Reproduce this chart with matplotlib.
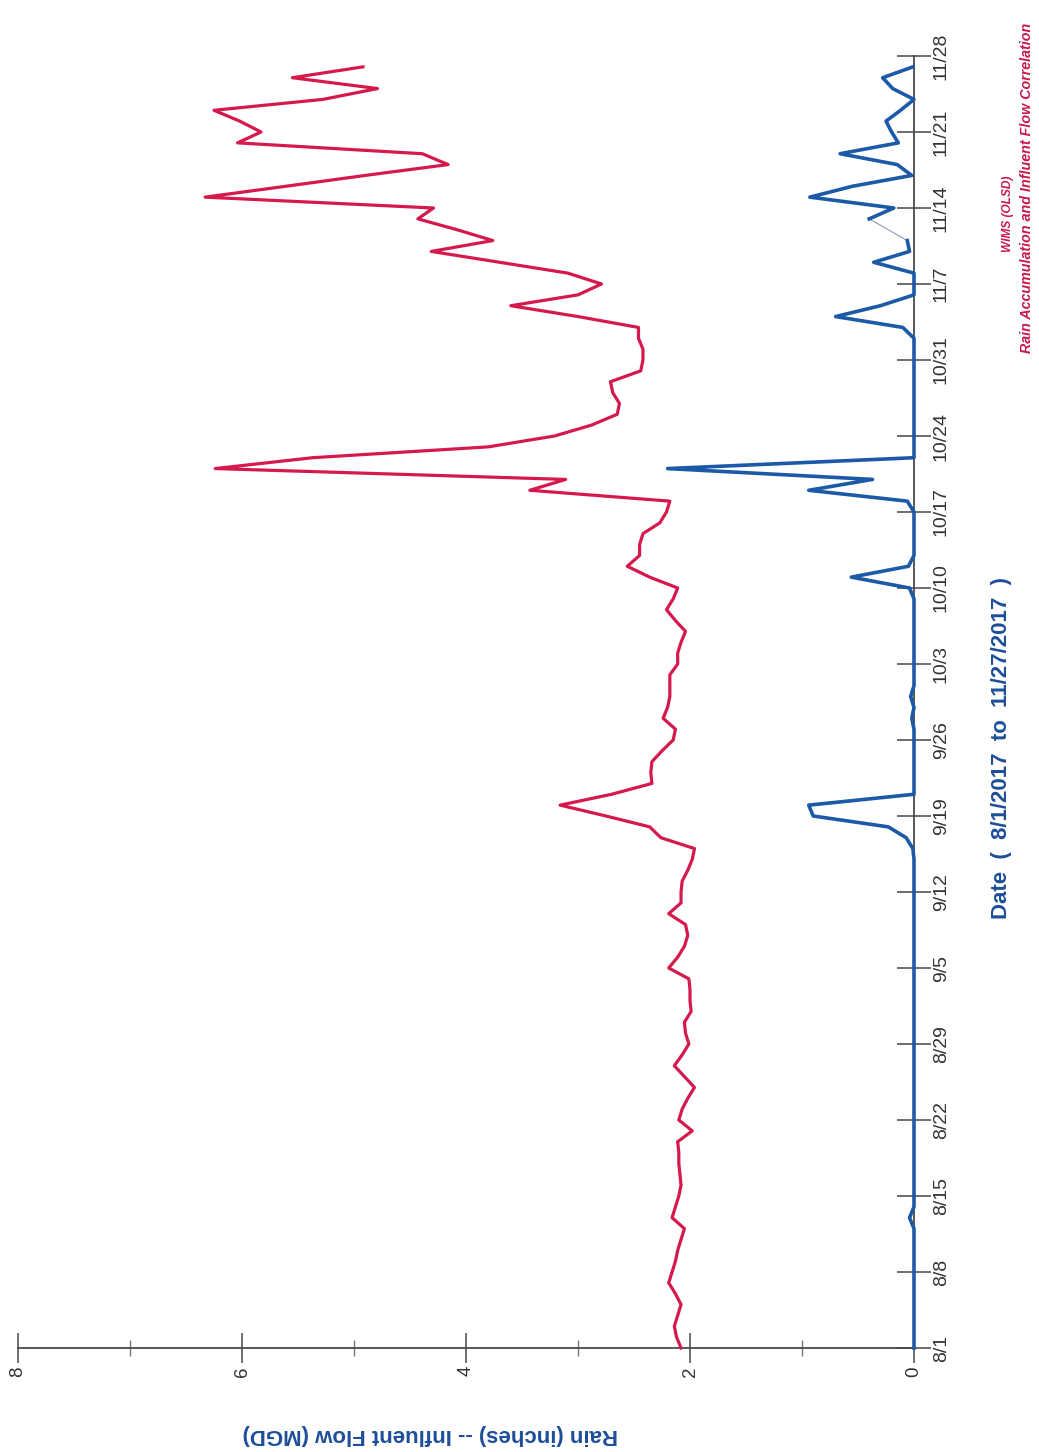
import numpy as np
import matplotlib
matplotlib.use("Agg")
import matplotlib.pyplot as plt

# daily values, 8/1/2017 .. 11/27/2017
influent_mgd = [
    2.08, 2.12, 2.14, 2.11, 2.08, 2.13, 2.19, 2.16, 2.13, 2.11,
    2.08, 2.05, 2.16, 2.13, 2.10, 2.08, 2.09, 2.10, 2.10, 2.11,
    1.98, 2.10, 2.07, 2.02, 1.96, 2.05, 2.14, 2.07, 2.01, 2.04,
    2.05, 1.99, 2.00, 2.00, 2.01, 2.19, 2.11, 2.05, 2.02, 2.04,
    2.19, 2.08, 2.08, 2.07, 2.02, 1.98, 1.96, 2.26, 2.36, 2.75,
    3.16, 2.70, 2.34, 2.35, 2.34, 2.25, 2.15, 2.13, 2.24, 2.20,
    2.18, 2.18, 2.18, 2.11, 2.11, 2.08, 2.04, 2.13, 2.21, 2.15,
    2.11, 2.36, 2.56, 2.45, 2.45, 2.42, 2.27, 2.21, 2.18, 3.43,
    3.11, 6.24, 5.37, 3.80, 3.21, 2.88, 2.65, 2.63, 2.69, 2.71,
    2.44, 2.42, 2.42, 2.46, 2.46, 3.00, 3.60, 3.00, 2.79, 3.09,
    3.70, 4.31, 3.76, 4.08, 4.43, 4.29, 6.33, 5.61, 4.90, 4.16,
    4.39, 6.04, 5.83, 6.02, 6.25, 5.28, 4.79, 5.55, 4.92,
]
nan = float("nan")
rain_in = [
    0, 0, 0, 0, 0, 0, 0, 0, 0, 0,
    0, 0, 0.04, 0, 0, 0, 0, 0, 0, 0,
    0, 0, 0, 0, 0, 0, 0, 0, 0, 0,
    0, 0, 0, 0, 0, 0, 0, 0, 0, 0,
    0, 0, 0, 0, 0, 0, 0.01, 0.07, 0.23, 0.90,
    0.94, 0, 0, 0, 0, 0, 0, 0, 0.02, 0,
    0.03, 0, 0, 0, 0, 0, 0, 0, 0, 0,
    0.04, 0.56, 0.05, 0, 0, 0, 0, 0, 0.06, 0.94,
    0.37, 2.20, 0, 0, 0, 0, 0, 0, 0, 0,
    0, 0, 0, 0, 0.10, 0.70, 0.30, 0, 0, 0,
    0.36, 0.04, 0.06, nan, 0.40, 0.18, 0.93, 0.55, 0.02, 0.15,
    0.66, 0.14, 0.20, 0.25, 0.12, 0, 0.19, 0.28, 0.01,
]
week_labels = ["8/1", "8/8", "8/15", "8/22", "8/29", "9/5", "9/12", "9/19", "9/26",
               "10/3", "10/10", "10/17", "10/24", "10/31", "11/7", "11/14", "11/21", "11/28"]

RED = "#d5194c"
BLUE = "#1c5aa8"
NAVY = "#1f4e9a"
FONT = "Liberation Sans"

days = np.arange(len(influent_mgd))
rain = np.array(rain_in, dtype=float)

fig = plt.figure(figsize=(10.39, 14.52), dpi=100)
ax = fig.add_axes([18 / 1039, 1 - 1348 / 1452, 896 / 1039, 1292 / 1452])

# page is turned: values run right-to-left, dates bottom-to-top
ax.plot(influent_mgd, days, color=RED, lw=2.3, clip_on=False, zorder=3)
ax.plot(rain, days, color=BLUE, lw=2.6, clip_on=False, zorder=4)
# bridge over the missing rain reading
for i in np.where(np.isnan(rain))[0]:
    ax.plot([rain[i - 1], rain[i + 1]], [days[i - 1], days[i + 1]],
            color="#8c9bb0", lw=0.8, zorder=2)

ax.set_xlim(8, 0)
ax.set_ylim(0, 7 * (len(week_labels) - 1))

for s in ("top", "left"):
    ax.spines[s].set_visible(False)
for s in ("right", "bottom"):
    ax.spines[s].set_color("#4a4a4a")
    ax.spines[s].set_linewidth(1.3)

ax.yaxis.tick_right()
ax.set_yticks(np.arange(0, 7 * len(week_labels), 7))
ax.set_yticklabels(week_labels, rotation=90, va="center", ha="left",
                   fontsize=14, color="#333333", family=FONT)
ax.tick_params(axis="y", direction="inout", length=25, width=1.2, color="#555555", pad=1)

ax.set_xticks([0, 2, 4, 6, 8])
ax.set_xticks([1, 3, 5, 7], minor=True)
ax.set_xticklabels(["0", "2", "4", "6", "8"], rotation=90, va="top", ha="center",
                   fontsize=13.5, color="#333333", family=FONT)
ax.tick_params(axis="x", which="major", direction="inout", length=22, width=1.2,
               color="#555555", pad=2)
ax.tick_params(axis="x", which="minor", direction="inout", length=12, width=1.0,
               color="#777777")

fig.text(430 / 1039, 1 - 1435 / 1452, "Rain (inches) -- Influent Flow (MGD)",
         rotation=180, ha="center", va="center", fontsize=16, weight="bold",
         color=NAVY, family=FONT)
fig.text(1001 / 1039, 1 - 748 / 1452, "Date  (  8/1/2017  to  11/27/2017  )",
         rotation=90, ha="center", va="center", fontsize=16, weight="bold",
         color=NAVY, family=FONT)
fig.text(1008 / 1039, 1 - 214 / 1452, "WIMS (OLSD)", rotation=90, ha="center",
         va="center", fontsize=8.6, weight="bold", style="italic", color="#c8184a",
         family=FONT)
fig.text(1027 / 1039, 1 - 188 / 1452, "Rain Accumulation and Influent Flow Correlation",
         rotation=90, ha="center", va="center", fontsize=10.3, weight="bold",
         style="italic", color="#c8184a", family=FONT)

fig.savefig("out.png", dpi=100, facecolor="white")
